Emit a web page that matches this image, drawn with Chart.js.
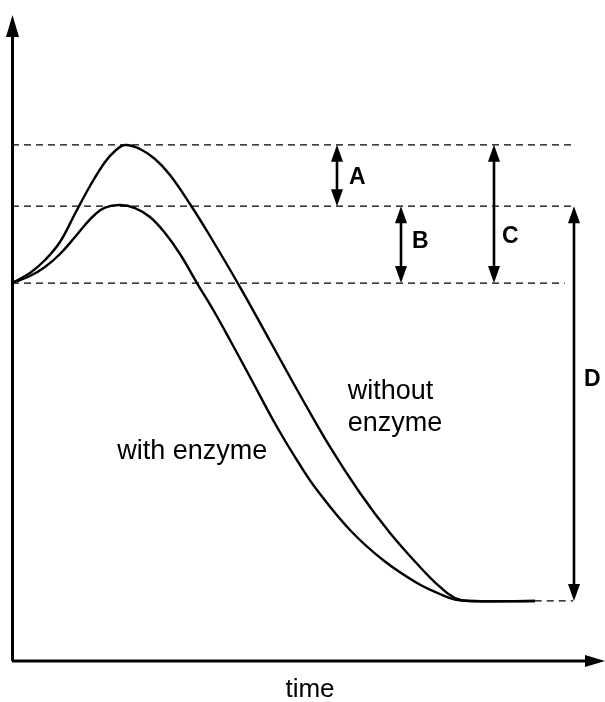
<!DOCTYPE html>
<html>
<head>
<meta charset="utf-8">
<script src="https://cdn.jsdelivr.net/npm/chart.js@4/dist/chart.umd.min.js"></script>
<style>
  html, body { margin: 0; padding: 0; background: #fff; }
  #wrap { width: 605px; height: 702px; position: relative; }
</style>
</head>
<body>
<div id="wrap"><canvas id="c"></canvas></div>
<script>
// ---- data (time 0..100, energy 0..100, arbitrary units) ----
const withoutTime   = [0, 3.06, 5.61, 8.16, 10.71, 13.27, 15.82, 17.52, 19.22, 21.77, 24.32, 26.87, 30.27, 33.67, 38.78, 43.88, 48.98, 54.08, 59.18, 64.29, 69.39, 72.79, 75.34, 77.89, 88.95];
const withoutEnergy = [58.51, 60.06, 62.07, 64.86, 69.23, 73.53, 77.24, 78.95, 79.88, 79.26, 77.71, 75.23, 70.74, 65.79, 57.89, 49.54, 41.18, 33.13, 26.01, 19.81, 14.55, 11.46, 9.75, 9.29, 9.29];
const withTime      = [0, 3.06, 5.61, 8.16, 10.71, 12.41, 14.12, 15.82, 18.37, 20.92, 23.47, 26.02, 28.57, 31.46, 34.52, 37.07, 40.48, 45.07, 48.98, 51.87, 57.48, 63.10, 68.88, 72.79, 75.34, 77.89, 88.95];
const withEnergy    = [58.51, 59.60, 60.99, 63.00, 65.63, 67.49, 69.12, 70.20, 70.59, 70.12, 68.73, 66.25, 63.00, 58.51, 53.87, 49.69, 43.96, 36.22, 30.34, 26.47, 20.28, 15.63, 12.07, 10.37, 9.52, 9.29, 9.29];

// dashed reference levels: peak without enzyme, peak with enzyme, reactants, products
const levelEnergy = [79.9, 70.4, 58.5, 9.3];
const levelStart  = [0, 0, 0, 88.9];
const levelEnd    = [95.4, 95.4, 94.0, 95.4];

// double-headed arrows
const arrowLabels = ['A', 'B', 'C', 'D'];
const arrowTime   = [55.3, 66.2, 82.0, 95.6];
const arrowFrom   = [79.9, 70.4, 79.9, 70.4];
const arrowTo     = [70.4, 58.5, 58.5, 9.3];

const curveLabels = ['with enzyme', 'without', 'enzyme'];
const xAxisTitle = 'time';

// ---- build datasets ----
const toPts = (xs, ys) => xs.map((x, i) => ({ x: x, y: ys[i] }));
const datasets = [
  { label: 'without enzyme', data: toPts(withoutTime, withoutEnergy) },
  { label: 'with enzyme', data: toPts(withTime, withEnergy) }
].map(d => Object.assign(d, {
  borderColor: '#000', borderWidth: 2.4, pointRadius: 0,
  tension: 0.4, fill: false
}));
levelEnergy.forEach((v, i) => {
  datasets.push({
    label: 'level' + i,
    data: [{ x: levelStart[i], y: v }, { x: levelEnd[i], y: v }],
    borderColor: '#000', borderWidth: 1.3, borderDash: [7, 5],
    pointRadius: 0, fill: false, tension: 0
  });
});

// label placement (pixel offsets / energy positions for letters)
const letterDx = [12, 11, 8, 10];
const letterEnergy = [74.9, 65.0, 65.8, 43.7];

// ---- drawing helpers ----
function head(ctx, x, y, dir, w, len) {
  ctx.beginPath();
  ctx.moveTo(x, y);
  ctx.lineTo(x - w / 2, y + dir * len);
  ctx.lineTo(x + w / 2, y + dir * len);
  ctx.closePath();
  ctx.fill();
}

const overlay = {
  id: 'overlay',
  afterDatasetsDraw(chart) {
    const ctx = chart.ctx;
    const xs = chart.scales.x, ys = chart.scales.y;
    const a = chart.chartArea;
    ctx.save();
    ctx.fillStyle = '#000';
    ctx.strokeStyle = '#000';

    // axes with arrowheads
    ctx.lineWidth = 3;
    ctx.beginPath();
    ctx.moveTo(a.left + 0.5, a.bottom);
    ctx.lineTo(a.left + 0.5, a.top + 18);
    ctx.moveTo(a.left, a.bottom);
    ctx.lineTo(chart.width - 16, a.bottom);
    ctx.stroke();
    head(ctx, a.left + 0.5, a.top, 1, 13, 22);
    ctx.beginPath();
    ctx.moveTo(chart.width, a.bottom);
    ctx.lineTo(chart.width - 20, a.bottom - 6);
    ctx.lineTo(chart.width - 20, a.bottom + 6);
    ctx.closePath();
    ctx.fill();

    // double arrows with letters
    ctx.lineWidth = 2.6;
    ctx.font = 'bold 23px "Liberation Sans", Arial, sans-serif';
    ctx.textBaseline = 'middle';
    ctx.textAlign = 'left';
    arrowLabels.forEach((lab, i) => {
      const px = Math.round(xs.getPixelForValue(arrowTime[i]));
      const y1 = ys.getPixelForValue(arrowFrom[i]);
      const y2 = ys.getPixelForValue(arrowTo[i]);
      const hl = 17, hw = 12;
      ctx.beginPath();
      ctx.moveTo(px, y1 + hl - 1);
      ctx.lineTo(px, y2 - hl + 1);
      ctx.stroke();
      head(ctx, px, y1, 1, hw, hl);
      head(ctx, px, y2, -1, hw, hl);
      ctx.fillText(lab, px + letterDx[i], ys.getPixelForValue(letterEnergy[i]) + 1);
    });

    // curve labels
    ctx.textBaseline = 'alphabetic';
    ctx.font = '27px "Liberation Sans", Arial, sans-serif';
    ctx.fillText(curveLabels[0], xs.getPixelForValue(17.9), ys.getPixelForValue(31.3));
    ctx.fillText(curveLabels[1], xs.getPixelForValue(57.1), ys.getPixelForValue(40.6));
    ctx.fillText(curveLabels[2], xs.getPixelForValue(57.1), ys.getPixelForValue(35.6));

    // x axis title
    ctx.font = '26px "Liberation Sans", Arial, sans-serif';
    ctx.textAlign = 'center';
    ctx.fillText(xAxisTitle, 310, chart.height - 5);
    ctx.restore();
  }
};

new Chart(document.getElementById('c'), {
  type: 'line',
  data: { datasets: datasets },
  options: {
    responsive: true,
    maintainAspectRatio: false,
    animation: false,
    layout: { padding: { left: 12, right: 5, top: 15, bottom: 41 } },
    plugins: { legend: { display: false }, tooltip: { enabled: false } },
    scales: {
      x: { type: 'linear', min: 0, max: 100, display: false },
      y: { type: 'linear', min: 0, max: 100, display: false }
    }
  },
  plugins: [overlay]
});
</script>
</body>
</html>
